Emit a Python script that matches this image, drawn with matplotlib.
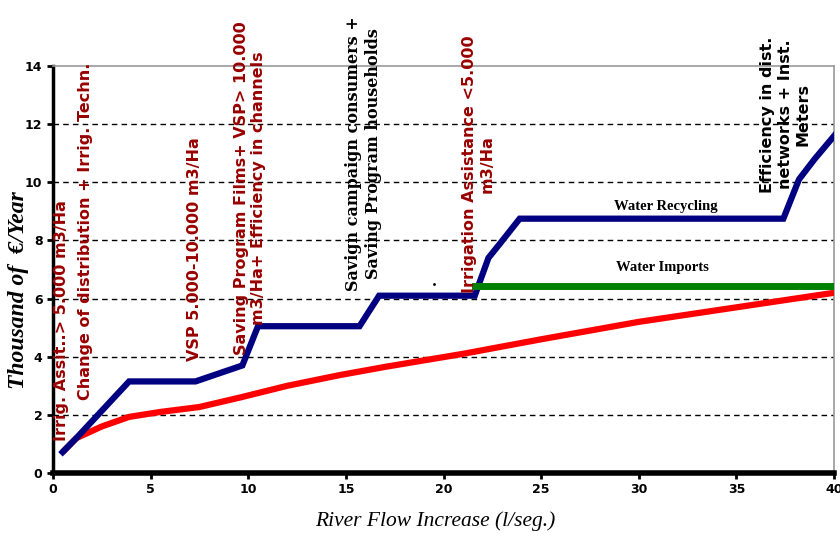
import numpy as np
import matplotlib
matplotlib.use("Agg")
import matplotlib.pyplot as plt

# blue: water recycling cost curve
recycling_x = [0.5, 1.2, 3.9, 7.3, 9.7, 10.5, 15.7, 16.7, 21.6, 22.3, 22.9, 23.9, 37.4, 38.2, 39.0, 40.0]
recycling_y = [0.72, 1.2, 3.15, 3.15, 3.7, 5.05, 5.05, 6.1, 6.1, 7.4, 7.9, 8.75, 8.75, 10.1, 10.8, 11.6]

# green: water imports
imports_x = [21.6, 40.0]
imports_y = [6.43, 6.43]

# red: demand management measures
measures_x = [0.5, 1.2, 2.5, 3.9, 5.5, 7.5, 9.6, 12.0, 14.7, 17.0, 21.0, 25.0, 30.0, 35.0, 40.0]
measures_y = [0.72, 1.2, 1.6, 1.93, 2.1, 2.27, 2.6, 3.0, 3.37, 3.65, 4.1, 4.6, 5.2, 5.7, 6.2]

# vertical annotations: (x, y bottom, text, colour, style)
notes = [
    (0.45, 1.1, "Irrig. Assit..> 5.000 m3/Ha", "#990000", "sans"),
    (1.65, 2.5, "Change of distribution + Irrig. Techn.", "#990000", "sans"),
    (7.27, 3.85, "VSP 5.000-10.000 m3/Ha", "#990000", "sans"),
    (10.1, 4.05, "Saving Program Films+ VSP> 10.000\nm3/Ha+ Efficiency in channels", "#990000", "sans"),
    (15.9, 6.25, "Savign campaign consumers +\nSaving Program households", "black", "serif"),
    (21.8, 6.2, "Irrigation Assistance <5.000\nm3/Ha", "#990000", "sans"),
    (37.5, 9.65, "Efficiency in dist.\nnetworks + Inst.\nMeters", "black", "sans"),
]

fig = plt.figure(figsize=(8.4, 5.33), dpi=100)
ax = fig.add_axes([0.063, 0.1126, 0.930, 0.7634])

ax.plot(measures_x, measures_y, color="#ff0000", lw=4.5, solid_capstyle="butt", zorder=3)
ax.plot(recycling_x, recycling_y, color="#000080", lw=4.5, solid_joinstyle="miter", zorder=4)
ax.plot(imports_x, imports_y, color="#008000", lw=5, zorder=5)

ax.set_xlim(0, 40)
ax.set_ylim(0, 14)
ax.set_xticks(np.arange(0, 41, 5))
ax.set_yticks(np.arange(0, 15, 2))
for yv in range(2, 14, 2):
    ax.axhline(yv, color="black", lw=1, ls=(0, (4, 3)), zorder=1)

for side in ("top", "right"):
    ax.spines[side].set_color("#999999")
    ax.spines[side].set_linewidth(1.2)
ax.spines["left"].set_linewidth(2.5)
ax.spines["bottom"].set_linewidth(4)
ax.tick_params(axis="both", direction="out", width=2, length=4, labelsize=9)
for lab in ax.get_xticklabels() + ax.get_yticklabels():
    lab.set_fontfamily(["Liberation Sans Narrow", "DejaVu Sans"])
    lab.set_fontweight("bold")

ax.set_xlabel("River Flow Increase (l/seg.)", fontsize=15.5, fontstyle="italic",
              family="Liberation Serif")
ax.xaxis.set_label_coords(0.49, -0.095)
ax.set_ylabel("Thousand of  \u20ac/Year", fontsize=17, fontstyle="italic", fontweight="bold",
              family="Liberation Serif")
ax.yaxis.set_label_coords(-0.03, 0.45)

for x, y, txt, col, style in notes:
    if style == "serif":
        fam, fs = "DejaVu Serif", 11.5
    else:
        fam, fs = "DejaVu Sans", 11.5
    ax.text(x, y, txt, rotation=90, ha="center", va="bottom", color=col,
            fontsize=fs, fontweight="bold", family=fam,
            multialignment="center", linespacing=1.2, zorder=6)

ax.text(31.4, 8.95, "Water Recycling", ha="center", va="bottom", fontsize=10.5,
        fontweight="bold", family="Liberation Serif")
ax.text(31.2, 6.85, "Water Imports", ha="center", va="bottom", fontsize=10.5,
        fontweight="bold", family="Liberation Serif")
ax.plot([19.5], [6.5], marker=".", color="black", ms=2)

fig.savefig("out.png", dpi=100)
